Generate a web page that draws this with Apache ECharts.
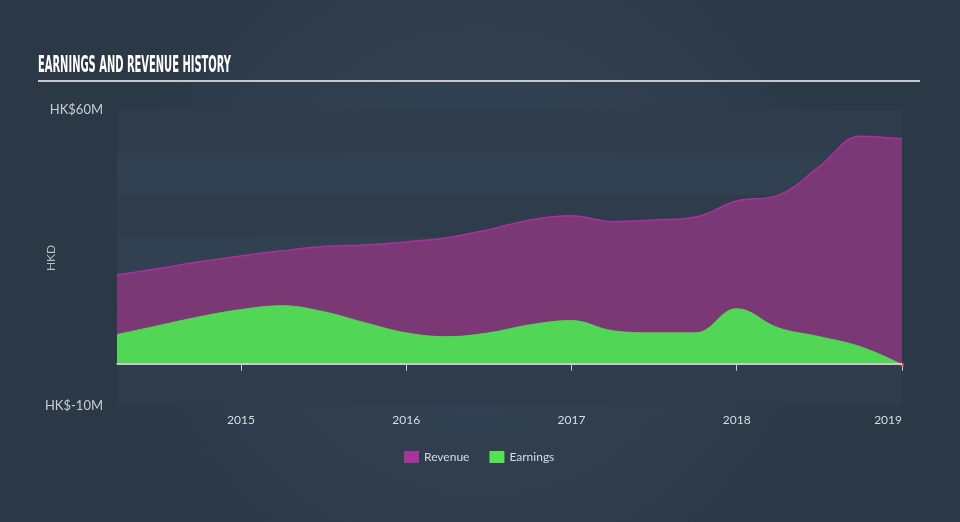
<!DOCTYPE html>
<html>
<head>
<meta charset="utf-8">
<script src="https://cdn.jsdelivr.net/npm/echarts@6/dist/echarts.min.js"></script>
<style>
html,body{margin:0;padding:0;width:960px;height:522px;overflow:hidden;}
#c{width:960px;height:522px;}
</style>
</head>
<body>
<div id="c"></div>
<script>
const titleText = 'EARNINGS AND REVENUE HISTORY';
const yAxisName = 'HKD';
const yTickLabels = {60: 'HK$60M', '-10': 'HK$-10M'};
const xTickYears = [2015, 2016, 2017, 2018, 2019];

const dates = ['2014-04','2014-07','2014-10','2015-01','2015-04','2015-07','2015-10','2016-01','2016-04','2016-07','2016-10','2017-01','2017-04','2017-07','2017-10','2018-01','2018-04','2018-07','2018-10','2019-01'];
const revenueValues = [21.0, 22.5, 24.1, 25.5, 26.7, 27.7, 28.1, 28.8, 29.8, 31.7, 34.0, 35.0, 33.6, 34.0, 34.7, 38.5, 39.8, 46.6, 53.8, 53.2];
const earningsValues = [6.9, 9.0, 11.1, 12.8, 13.7, 12.3, 9.7, 7.3, 6.4, 7.3, 9.2, 10.2, 7.8, 7.3, 7.3, 13.0, 8.5, 6.4, 4.0, -0.2];

// date string -> fractional year
const toYear = s => { const p = s.split('-').map(Number); return p[0] + (p[1] - 1) / 12; };

const revData = dates.map((d, i) => [toYear(d), revenueValues[i]]);
const earnData = dates.map((d, i) => {
  const item = {value: [toYear(d), earningsValues[i]]};
  if (i === dates.length - 1 && earningsValues[i] < 0) {
    item.symbol = 'circle'; item.symbolSize = 4; item.itemStyle = {color: '#ff4b3a'};
  }
  return item;
});

const chart = echarts.init(document.getElementById('c'), null, {renderer: 'canvas'});
chart.setOption({
  animation: false,
  backgroundColor: {
    type: 'radial', x: 0.5, y: 0.5, r: 0.75,
    colorStops: [{offset: 0, color: '#364657'}, {offset: 1, color: '#2b3846'}]
  },
  graphic: [
    {type: 'text', left: 38, top: 55, scaleX: 0.48,
     style: {text: titleText, fill: '#ffffff', font: 'bold 23px "DejaVu Sans Condensed", "DejaVu Sans", sans-serif'}},
    {type: 'line', shape: {x1: 38, y1: 81, x2: 920, y2: 81}, style: {stroke: '#c5c9ce', lineWidth: 2}}
  ],
  legend: {
    bottom: 54, left: 399, itemWidth: 15, itemHeight: 12, itemGap: 20,
    icon: 'rect',
    textStyle: {color: '#d8dde2', fontSize: 12, fontFamily: 'Lato, sans-serif'},
    data: ['Revenue', 'Earnings']
  },
  grid: {left: 117, right: 58, top: 110, bottom: 116},
  xAxis: {
    type: 'value',
    min: toYear(dates[0]), max: xTickYears[xTickYears.length - 1],
    axisLine: {lineStyle: {color: '#c8ced6', width: 1.5}},
    axisTick: {show: true, customValues: xTickYears, length: 7, lineStyle: {color: '#c8ced6'}},
    axisLabel: {customValues: xTickYears, formatter: v => String(Math.round(v)),
      color: '#d8dde2', fontSize: 12, fontFamily: 'Lato, sans-serif', margin: 8, alignMaxLabel: 'right'},
    splitLine: {show: false}
  },
  yAxis: {
    type: 'value', min: -10, max: 60, interval: 10,
    name: yAxisName, nameLocation: 'middle', nameGap: 60, nameMoveOverlap: false,
    nameTextStyle: {color: '#b8bec6', fontSize: 12, fontFamily: 'Lato, sans-serif'},
    axisLine: {show: false}, axisTick: {show: false},
    axisLabel: {formatter: v => yTickLabels[v] || '', color: '#c8ced6', fontSize: 13,
      fontFamily: 'Lato, sans-serif', margin: 14, showMinLabel: true, showMaxLabel: true},
    splitLine: {show: false},
    splitArea: {show: true, areaStyle: {color: ['#2e3c4b', '#324151']}}
  },
  series: [
    {
      name: 'Revenue', type: 'line', data: revData, smooth: 0.4,
      symbol: 'none', itemStyle: {color: '#a6359a'},
      lineStyle: {color: '#a8329e', width: 1.5},
      areaStyle: {color: '#7a3874', opacity: 1},
      markLine: {silent: true, symbol: 'none', label: {show: false},
        lineStyle: {color: '#c8c8c8', width: 2, type: 'solid'}, data: [{yAxis: 0}], z: 5}
    },
    {
      name: 'Earnings', type: 'line', data: earnData, smooth: 0.4,
      symbol: 'none', showSymbol: true, itemStyle: {color: '#55e24f'},
      lineStyle: {color: '#52d655', width: 1},
      areaStyle: {color: '#52d655', opacity: 1}
    }
  ]
});
</script>
</body>
</html>
